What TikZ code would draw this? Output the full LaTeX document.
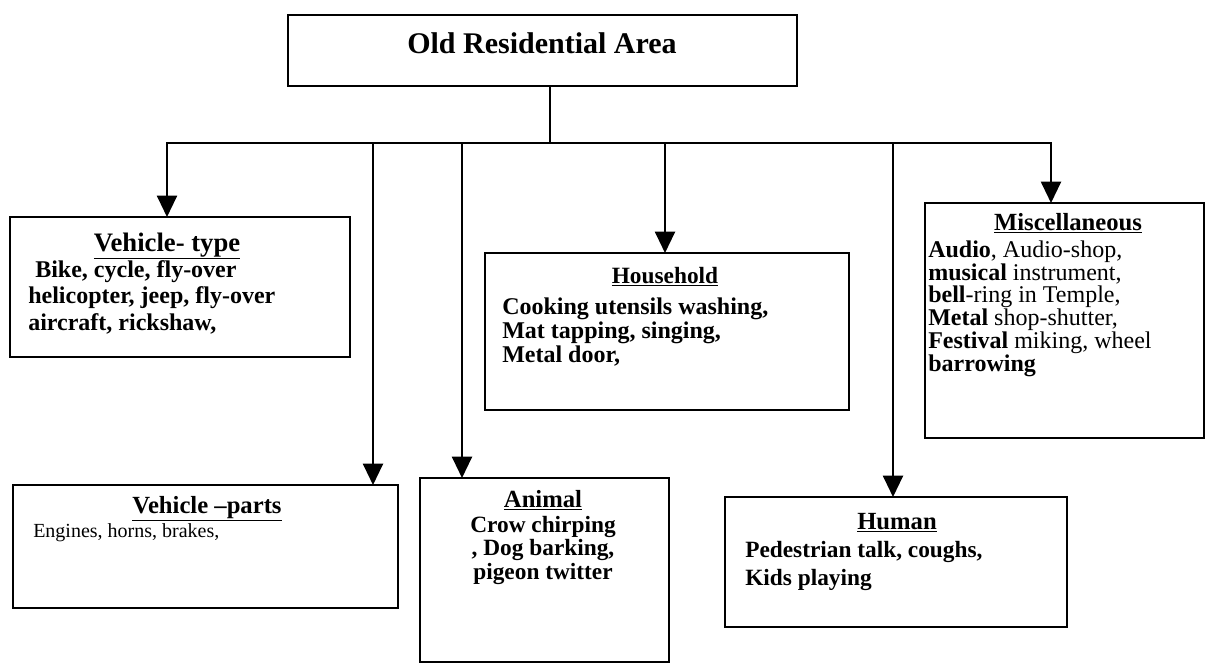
\documentclass[tikz,border=0pt]{standalone}
\usepackage{fontspec}
\setmainfont{Liberation Serif}
\usetikzlibrary{arrows.meta,fit}
\tikzset{
  box/.style={draw, line width=1.2pt, inner sep=0pt, outer sep=0pt},
  conn/.style={line width=1.6pt},
  arr/.style={conn, -{Triangle[length=16pt,width=15pt]}},
  ttl/.style={font=\bfseries\fontsize{18.5}{18}\selectfont, inner sep=0pt, anchor=base},
  bt/.style={font=\bfseries\fontsize{18}{18}\selectfont, inner sep=0pt, anchor=base west},
  bc/.style={font=\bfseries\fontsize{17.5}{18}\selectfont, inner sep=0pt, anchor=base},
  rt/.style={font=\fontsize{18}{18}\selectfont, inner sep=0pt, anchor=base west},
}
\begin{document}
\begin{tikzpicture}[x=0.75pt,y=-0.75pt]
\useasboundingbox (0,0) rectangle (1206,665);

% boxes
\node[box, fit={(288,15) (797,86)}] (top) {};
\node[box, fit={(10,217) (350,357)}] (vtype) {};
\node[box, fit={(13,485) (398,608)}] (vparts) {};
\node[box, fit={(420,478) (669,662)}] (animal) {};
\node[box, fit={(485,253) (849,410)}] (house) {};
\node[box, fit={(725,497) (1067,627)}] (human) {};
\node[box, fit={(925,203) (1204,438)}] (misc) {};

% top title
\node[font=\bfseries\fontsize{22.5}{22.5}\selectfont, inner sep=0pt, anchor=base] (topT) at (542,53) {Old Residential Area};

% Vehicle-type
\node[ttl, font=\bfseries\fontsize{20}{20}\selectfont] (vtypeT) at (167,251) {\underline{Vehicle- type}};
\node[bt] (vt1) at (35,277) {Bike, cycle, fly-over};
\node[bt] (vt2) at (28,303) {helicopter, jeep, fly-over};
\node[bt] (vt3) at (28,330) {aircraft, rickshaw,};

% Vehicle-parts
\node[ttl] (vpartsT) at (207,513) {\underline{Vehicle –parts}};
\node[rt, font=\fontsize{15}{15}\selectfont] (vp1) at (33,537) {Engines, horns, brakes,};

% Animal
\node[ttl] (animalT) at (543,507) {\underline{Animal}};
\node[bc] (an1) at (543,532) {Crow chirping};
\node[bc] (an2) at (543,555) {, Dog barking,};
\node[bc] (an3) at (543,579) {pigeon twitter};

% Household
\node[ttl, font=\bfseries\fontsize{17.5}{18}\selectfont] (houseT) at (665,283) {\underline{Household}};
\node[bt] (ho1) at (502,314) {Cooking utensils washing,};
\node[bt] (ho2) at (502,338) {Mat tapping, singing,};
\node[bt] (ho3) at (502,362) {Metal door,};

% Human
\node[ttl] (humanT) at (897,529) {\underline{Human}};
\node[bt, font=\bfseries\fontsize{17.5}{18}\selectfont] (hu1) at (745,557) {Pedestrian talk, coughs,};
\node[bt, font=\bfseries\fontsize{17.5}{18}\selectfont] (hu2) at (745,585) {Kids playing};

% Miscellaneous
\node[ttl] (miscT) at (1068,230) {\underline{Miscellaneous}};
\node[rt] (mi1) at (928,257) {\textbf{Audio}, Audio-shop,};
\node[rt] (mi2) at (928,280) {\textbf{musical} instrument,};
\node[rt] (mi3) at (928,302) {\textbf{bell}-ring in Temple,};
\node[rt] (mi4) at (928,325) {\textbf{Metal} shop-shutter,};
\node[rt] (mi5) at (928,348) {\textbf{Festival} miking, wheel};
\node[rt] (mi6) at (928,371) {\textbf{barrowing}};

% connectors
\coordinate (j) at (550,143);
\coordinate (b1) at (167,143);
\coordinate (b2) at (373,143);
\coordinate (b3) at (462,143);
\coordinate (b4) at (665,143);
\coordinate (b5) at (893,143);
\coordinate (b6) at (1051,143);
\draw[conn] (top.south -| j) -- (j);
\draw[conn, line cap=rect] (b1) -- (b6);
\draw[arr] (b1) -- (vtype.north -| b1);
\draw[arr] (b2) -- (vparts.north -| b2);
\draw[arr] (b3) -- (animal.north -| b3);
\draw[arr] (b4) -- (house.north -| b4);
\draw[arr] (b5) -- (human.north -| b5);
\draw[arr] (b6) -- (misc.north -| b6);
\end{tikzpicture}
\end{document}
